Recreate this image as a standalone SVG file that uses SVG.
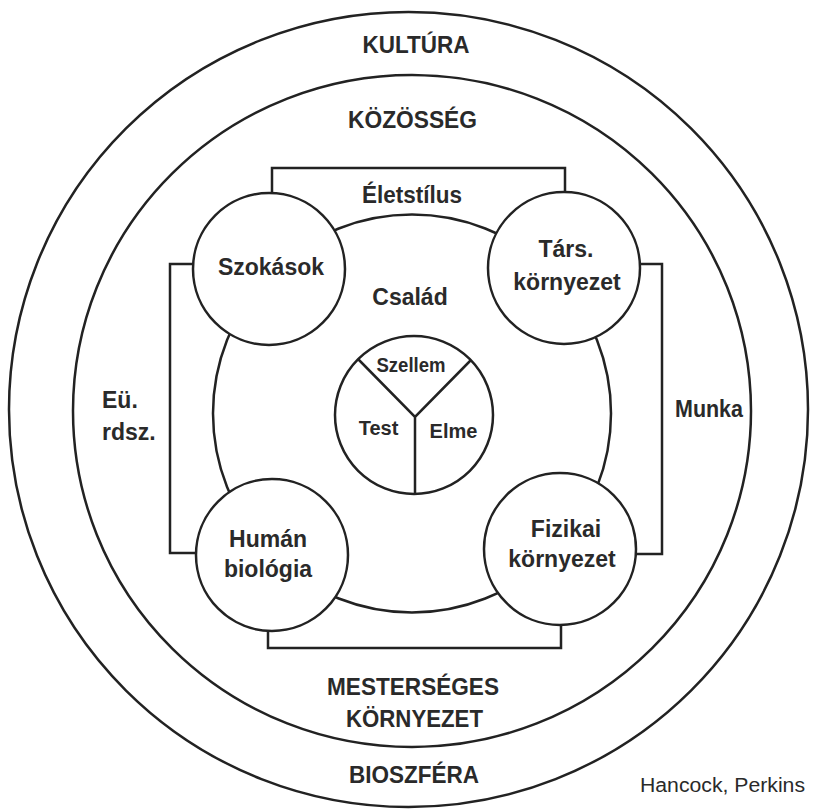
<svg xmlns="http://www.w3.org/2000/svg" width="815" height="810" viewBox="0 0 815 810">
<style>
.ln{fill:none;stroke:#222;stroke-width:2.5}
.nd{fill:#fff;stroke:#222;stroke-width:2.5}
.t{font-family:"Liberation Sans",Arial,sans-serif;font-weight:bold;font-size:23px;fill:#2a2a2a;text-anchor:middle}
.s{font-size:20px}
.r{font-family:"Liberation Sans",Arial,sans-serif;font-size:20px;fill:#2a2a2a}
</style>
<rect width="815" height="810" fill="#fff"/>
<g id="kultura">
<ellipse class="ln" cx="408.5" cy="409.5" rx="399.5" ry="397.5"/>
<text class="t" x="416" y="53" textLength="107" lengthAdjust="spacingAndGlyphs">KULTÚRA</text>
<text class="t" x="414" y="783" textLength="130" lengthAdjust="spacingAndGlyphs">BIOSZFÉRA</text>
</g>
<g id="kozosseg">
<ellipse class="ln" cx="412" cy="411" rx="339" ry="336"/>
<text class="t" x="412.5" y="128" textLength="129" lengthAdjust="spacingAndGlyphs">KÖZÖSSÉG</text>
<text class="t" x="413" y="695" textLength="172" lengthAdjust="spacingAndGlyphs">MESTERSÉGES</text>
<text class="t" x="414.5" y="727" textLength="137" lengthAdjust="spacingAndGlyphs">KÖRNYEZET</text>
</g>
<g id="connectors">
<path class="ln" d="M272,195 V168 H565 V194"/>
<path class="ln" d="M195,264 H170 V553 H197"/>
<path class="ln" d="M640,264 H662 V554 H635"/>
<path class="ln" d="M268,629 V648 H561 V623"/>
</g>
<g id="labels-brackets">
<text class="t" x="412" y="203" textLength="100" lengthAdjust="spacingAndGlyphs">Életstílus</text>
<text class="t" x="102" y="408" style="text-anchor:start">Eü.</text>
<text class="t" x="102" y="440" style="text-anchor:start">rdsz.</text>
<text class="t" x="709" y="417" textLength="68" lengthAdjust="spacingAndGlyphs">Munka</text>
</g>
<g id="csalad">
<circle class="ln" cx="412" cy="413.5" r="199"/>
<text class="t" x="410" y="305">Család</text>
</g>
<g id="szokasok">
<circle class="nd" cx="269" cy="269" r="76"/>
<text class="t" x="271" y="275">Szokások</text>
</g>
<g id="tars-kornyezet">
<circle class="nd" cx="564" cy="268" r="76"/>
<text class="t" x="566" y="257">Társ.</text>
<text class="t" x="567" y="290">környezet</text>
</g>
<g id="human-biologia">
<circle class="nd" cx="272" cy="555" r="76"/>
<text class="t" x="268" y="547">Humán</text>
<text class="t" x="268" y="577">biológia</text>
</g>
<g id="fizikai-kornyezet">
<circle class="nd" cx="560" cy="549" r="76"/>
<text class="t" x="566" y="537">Fizikai</text>
<text class="t" x="562" y="567">környezet</text>
</g>
<g id="egyen">
<circle class="nd" cx="414" cy="415" r="79"/>
<path class="ln" d="M358,359 L415,417 L471,360 M415,417 V494"/>
<text class="t s" x="411" y="372" textLength="69" lengthAdjust="spacingAndGlyphs">Szellem</text>
<text class="t s" x="378.5" y="435">Test</text>
<text class="t s" x="453.5" y="438">Elme</text>
</g>
<text class="r" x="805" y="792" text-anchor="end" textLength="165" lengthAdjust="spacingAndGlyphs">Hancock, Perkins</text>
</svg>
